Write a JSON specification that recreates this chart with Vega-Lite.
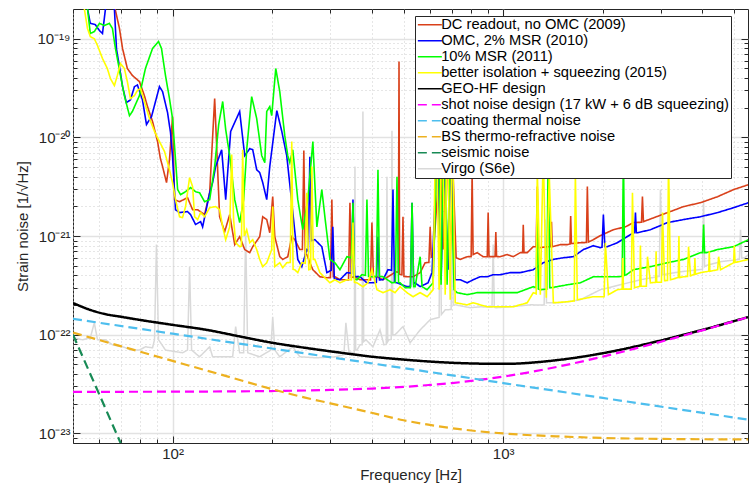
{
  "$schema": "https://vega.github.io/schema/vega-lite/v6.json",
  "width": 675,
  "height": 434,
  "autosize": "none",
  "padding": {"left": 73, "top": 9, "right": 2, "bottom": 40},
  "background": "white",
  "config": {
    "font": "Liberation Sans",
    "view": {"stroke": "#262626", "strokeWidth": 1},
    "legend": {
      "orient": "none",
      "legendX": 342,
      "legendY": 7,
      "fillColor": "white",
      "strokeColor": "#262626",
      "padding": 1.5,
      "labelFont": "Liberation Sans",
      "labelFontSize": 14.7,
      "labelColor": "#000000",
      "labelLimit": 500,
      "labelOffset": 4,
      "rowPadding": 0,
      "symbolType": "M-2,0H2",
      "symbolSize": 144,
      "symbolOffset": 6,
      "symbolStrokeWidth": 1.5,
      "title": null
    }
  },
  "datasets": {
    "dc2009": [
      {"f":50,"h":1e-17},{"f":60.1,"h":1e-18},{"f":67.2,"h":1.93e-19},{"f":69.1,"h":1.27e-19},{"f":70.6,"h":7.96e-20},{"f":73.0,"h":4.99e-20},{"f":75.6,"h":4.24e-20},{"f":79.4,"h":3.68e-20},{"f":82.2,"h":2.65e-20},{"f":84.0,"h":2.05e-20},{"f":87.0,"h":1.45e-20},{"f":90.1,"h":9.06e-21},{"f":91.9,"h":6.1e-21},{"f":93.3,"h":5.06e-21},{"f":95.9,"h":3.48e-21},{"f":97.9,"h":5.96e-21},{"f":100,"h":1.63e-20},{"f":101.4,"h":2.34e-21},{"f":105,"h":2.23e-21},{"f":111,"h":2.45e-21},{"f":115,"h":1.85e-21},{"f":119.1,"h":1.85e-21},{"f":125,"h":1.65e-21},{"f":129.5,"h":2.75e-21},{"f":134.1,"h":2.47e-20},{"f":138.8,"h":1.57e-21},{"f":143.8,"h":1.11e-21},{"f":148.9,"h":1.65e-21},{"f":154.2,"h":8.2e-22},{"f":159.6,"h":9.86e-22},{"f":165.3,"h":7.3e-22},{"f":171.2,"h":6.79e-22},{"f":174.8,"h":7.81e-22},{"f":183.5,"h":9.86e-22},{"f":187.4,"h":1.57e-21},{"f":192.7,"h":1.47e-21},{"f":196.8,"h":1.08e-21},{"f":200.9,"h":2.51e-21},{"f":203.8,"h":9.86e-22},{"f":211,"h":6.18e-22},{"f":215.4,"h":5.8e-22},{"f":223.1,"h":6.18e-22},{"f":229.4,"h":9.86e-22},{"f":234.3,"h":9.2e-22},{"f":242.6,"h":7.3e-22},{"f":247,"h":7.3e-22},{"f":249.5,"h":7.35e-21},{"f":252,"h":6.5e-22},{"f":254.7,"h":6.5e-22},{"f":260.2,"h":5.37e-22},{"f":265.7,"h":4.56e-22},{"f":279,"h":3.87e-22},{"f":292.9,"h":3.78e-22},{"f":300.3,"h":3.8e-22},{"f":303.3,"h":2.34e-21},{"f":306.3,"h":3.87e-22},{"f":309.8,"h":3.87e-22},{"f":320.8,"h":3.61e-22},{"f":340.6,"h":3.6e-22},{"f":344,"h":2.18e-21},{"f":347.4,"h":3.8e-22},{"f":356.2,"h":3.87e-22},{"f":368.9,"h":3.61e-22},{"f":397,"h":3.6e-22},{"f":400.9,"h":1.37e-21},{"f":405,"h":3.87e-22},{"f":415.1,"h":3.87e-22},{"f":432.9,"h":3.61e-22},{"f":448.3,"h":3.87e-22},{"f":474.1,"h":4.35e-22},{"f":482,"h":4.3e-22},{"f":484.1,"h":5.87e-20},{"f":486,"h":4.1e-22},{"f":490.9,"h":4.06e-22},{"f":494,"h":4.06e-22},{"f":497.7,"h":1.57e-21},{"f":501,"h":3.9e-22},{"f":511.8,"h":3.87e-22},{"f":533.8,"h":3.87e-22},{"f":560.8,"h":4.26e-22},{"f":580.7,"h":5.37e-22},{"f":596,"h":5.4e-22},{"f":601.4,"h":1.24e-21},{"f":606,"h":6.1e-22},{"f":613.8,"h":6.18e-22},{"f":631,"h":2.34e-21},{"f":644.9,"h":1.2e-20},{"f":658,"h":7.3e-22},{"f":676.6,"h":9.5e-21},{"f":691.5,"h":6.5e-22},{"f":705.5,"h":4.2e-21},{"f":720.5,"h":6.03e-22},{"f":741.5,"h":5.8e-22},{"f":778.1,"h":6.18e-22},{"f":800,"h":6.2e-22},{"f":805.5,"h":4.4e-21},{"f":811,"h":6.5e-22},{"f":834.1,"h":6.79e-22},{"f":869.7,"h":6.18e-22},{"f":895,"h":6.18e-22},{"f":900.6,"h":1.73e-21},{"f":906,"h":6.18e-22},{"f":945,"h":6.2e-22},{"f":950,"h":1.1e-21},{"f":955,"h":6.2e-22},{"f":979,"h":6.18e-22},{"f":1028,"h":6.5e-22},{"f":1072,"h":6.18e-22},{"f":1126,"h":6.79e-22},{"f":1145,"h":6.8e-22},{"f":1150,"h":1.3e-21},{"f":1156,"h":6.8e-22},{"f":1182,"h":6.79e-22},{"f":1233,"h":7.81e-22},{"f":1258,"h":7.8e-22},{"f":1268,"h":3.17e-21},{"f":1277,"h":7.6e-22},{"f":1359,"h":7.81e-22},{"f":1393,"h":7.8e-22},{"f":1400,"h":1.4e-21},{"f":1407,"h":7.8e-22},{"f":1488,"h":8.2e-22},{"f":1563,"h":8.2e-22},{"f":1592,"h":8.3e-22},{"f":1600,"h":1.6e-21},{"f":1608,"h":8.4e-22},{"f":1711,"h":8.57e-22},{"f":1785,"h":8.6e-22},{"f":1797,"h":3.17e-21},{"f":1810,"h":8.7e-22},{"f":1874,"h":9.2e-22},{"f":1967,"h":1.01e-21},{"f":2154,"h":1.16e-21},{"f":2343,"h":1.24e-21},{"f":2477,"h":1.37e-21},{"f":2620,"h":1.38e-21},{"f":2637,"h":2.51e-21},{"f":2655,"h":1.4e-21},{"f":3141,"h":1.73e-21},{"f":3512,"h":1.99e-21},{"f":3951,"h":2.18e-21},{"f":4452,"h":2.51e-21},{"f":4977,"h":2.96e-21},{"f":5523,"h":3.32e-21}
    ],
    "omc2010": [
      {"f":52.3,"h":6.4e-19},{"f":55.3,"h":2.02e-19},{"f":56.4,"h":1.43e-19},{"f":58.4,"h":1.39e-19},{"f":60.1,"h":1.21e-19},{"f":61.4,"h":1.13e-19},{"f":62.7,"h":2.02e-19},{"f":64.4,"h":4e-19},{"f":66.7,"h":2.02e-19},{"f":67.7,"h":7.8e-20},{"f":69.1,"h":5.22e-20},{"f":70.6,"h":3.27e-20},{"f":72.5,"h":2.25e-20},{"f":74.6,"h":2.4e-20},{"f":76.7,"h":3.27e-20},{"f":78.3,"h":3.4e-20},{"f":81.1,"h":2.4e-20},{"f":83.4,"h":1.35e-20},{"f":86.4,"h":1.63e-20},{"f":91.3,"h":3.27e-20},{"f":93.3,"h":2.91e-20},{"f":96.6,"h":1.78e-20},{"f":98.6,"h":1.12e-20},{"f":100,"h":6.38e-21},{"f":102.1,"h":1.85e-21},{"f":105,"h":1.73e-21},{"f":111,"h":1.77e-21},{"f":113.4,"h":1.65e-21},{"f":117.4,"h":1.31e-21},{"f":121.6,"h":1.4e-21},{"f":123.3,"h":1.24e-21},{"f":125.9,"h":1.73e-21},{"f":129.5,"h":2.75e-21},{"f":132.2,"h":3.48e-21},{"f":135,"h":5.06e-21},{"f":140.8,"h":7.5e-21},{"f":144.8,"h":2.34e-21},{"f":149.9,"h":1.15e-20},{"f":159.6,"h":1.83e-20},{"f":165.3,"h":6.53e-21},{"f":171.2,"h":7.69e-21},{"f":174.8,"h":7.5e-21},{"f":179.7,"h":4.7e-21},{"f":183.5,"h":4.4e-21},{"f":187.4,"h":3.48e-21},{"f":192.7,"h":2.34e-21},{"f":196.8,"h":5.06e-21},{"f":206.7,"h":1.87e-20},{"f":214,"h":1.15e-20},{"f":221.5,"h":6.53e-21},{"f":229.4,"h":2.18e-21},{"f":239.2,"h":5.8e-22},{"f":246,"h":4.9e-22},{"f":254.7,"h":7.3e-22},{"f":257.5,"h":7e-22},{"f":260.2,"h":6.38e-21},{"f":263,"h":9e-22},{"f":269.4,"h":9.2e-22},{"f":282.8,"h":7.81e-22},{"f":292.9,"h":4.26e-22},{"f":302,"h":4.5e-22},{"f":305.3,"h":1.24e-21},{"f":308.5,"h":3.7e-22},{"f":320.8,"h":3.61e-22},{"f":336.8,"h":4.26e-22},{"f":347.5,"h":4.2e-22},{"f":351.3,"h":2.34e-21},{"f":355,"h":3.9e-22},{"f":368.9,"h":3.87e-22},{"f":387.2,"h":3.36e-22},{"f":403.6,"h":3.36e-22},{"f":413.5,"h":3.4e-22},{"f":418.1,"h":9.86e-22},{"f":422.5,"h":3.6e-22},{"f":432.9,"h":3.61e-22},{"f":448.3,"h":4.56e-22},{"f":459.5,"h":4.5e-22},{"f":464.2,"h":2.96e-21},{"f":469,"h":3.4e-22},{"f":477.3,"h":3.36e-22},{"f":511.8,"h":3.07e-22},{"f":524.5,"h":3.1e-22},{"f":530.1,"h":2.18e-21},{"f":536,"h":3.3e-22},{"f":541.6,"h":3.36e-22},{"f":560.8,"h":3.07e-22},{"f":592.5,"h":3.36e-22},{"f":609.3,"h":4.26e-22},{"f":631,"h":7.5e-21},{"f":648.9,"h":3.61e-22},{"f":662.6,"h":5.96e-21},{"f":681.4,"h":4.56e-22},{"f":695.9,"h":1.07e-20},{"f":716,"h":3.61e-22},{"f":741.5,"h":3.61e-22},{"f":778.1,"h":3.36e-22},{"f":811.1,"h":3.61e-22},{"f":852,"h":3.87e-22},{"f":894.4,"h":3.87e-22},{"f":932.6,"h":4.06e-22},{"f":979,"h":4.06e-22},{"f":1050,"h":4.26e-22},{"f":1126,"h":4.26e-22},{"f":1233,"h":4.56e-22},{"f":1322,"h":5.37e-22},{"f":1418,"h":5.8e-22},{"f":1520,"h":6.03e-22},{"f":1630,"h":6.18e-22},{"f":1748,"h":7.3e-22},{"f":1874,"h":7.99e-22},{"f":1967,"h":7.62e-22},{"f":1990,"h":7.7e-22},{"f":2009,"h":1.65e-21},{"f":2030,"h":7.8e-22},{"f":2066,"h":7.81e-22},{"f":2215,"h":8.57e-22},{"f":2477,"h":1.08e-21},{"f":2497,"h":1.08e-21},{"f":2512,"h":1.73e-21},{"f":2528,"h":1.08e-21},{"f":2547,"h":1.08e-21},{"f":2788,"h":1.16e-21},{"f":3141,"h":1.37e-21},{"f":3512,"h":1.47e-21},{"f":3951,"h":1.57e-21},{"f":4452,"h":1.73e-21},{"f":4977,"h":1.94e-21},{"f":5523,"h":2.18e-21}
    ],
    "msr2011": [
      {"f":52.3,"h":6.4e-19},{"f":55.3,"h":2.02e-19},{"f":56.4,"h":1.13e-19},{"f":58.0,"h":1.18e-19},{"f":60.1,"h":1.43e-19},{"f":62.2,"h":1.36e-19},{"f":64.4,"h":1.43e-19},{"f":65.8,"h":1.27e-19},{"f":67.2,"h":7.96e-20},{"f":69.6,"h":4.24e-20},{"f":71.5,"h":2.65e-20},{"f":74.1,"h":1.66e-20},{"f":75.6,"h":1.83e-20},{"f":79.4,"h":2.65e-20},{"f":82.8,"h":4.99e-20},{"f":87.0,"h":7.96e-20},{"f":90.7,"h":9.38e-20},{"f":92.6,"h":7.96e-20},{"f":95.2,"h":4.24e-20},{"f":97.9,"h":2.47e-20},{"f":100,"h":1.55e-20},{"f":102.1,"h":5.96e-21},{"f":103.6,"h":2.96e-21},{"f":105.7,"h":2.63e-21},{"f":109.5,"h":2.82e-21},{"f":113.4,"h":3.1e-21},{"f":117.4,"h":2.82e-21},{"f":120.7,"h":2.75e-21},{"f":125,"h":2.23e-21},{"f":129.5,"h":2.34e-21},{"f":134.1,"h":5.06e-21},{"f":137.9,"h":1.35e-20},{"f":141.8,"h":2.31e-20},{"f":144.8,"h":1.2e-20},{"f":148.9,"h":6.53e-21},{"f":154.2,"h":2.34e-21},{"f":159.6,"h":1.37e-21},{"f":164.1,"h":2.34e-21},{"f":167.6,"h":7.5e-21},{"f":173.5,"h":2.59e-20},{"f":179.7,"h":1.55e-20},{"f":186.1,"h":6.53e-21},{"f":190.1,"h":5.55e-21},{"f":192.7,"h":1.83e-20},{"f":196.8,"h":2.05e-20},{"f":199.5,"h":1.66e-20},{"f":205.2,"h":4.99e-20},{"f":211,"h":2.91e-20},{"f":218.5,"h":1.04e-20},{"f":223.1,"h":6.53e-21},{"f":226.3,"h":5.55e-21},{"f":231,"h":7.5e-21},{"f":239.2,"h":2.34e-21},{"f":247.7,"h":1.16e-21},{"f":256.5,"h":2.34e-21},{"f":265.7,"h":9.06e-21},{"f":273.2,"h":1.24e-21},{"f":282.8,"h":2.96e-21},{"f":288.9,"h":1.57e-21},{"f":299.2,"h":5.8e-22},{"f":309.8,"h":5.37e-22},{"f":320.8,"h":4.56e-22},{"f":336.8,"h":6.18e-22},{"f":347.5,"h":6e-22},{"f":351.3,"h":2.18e-21},{"f":355,"h":3.7e-22},{"f":361.2,"h":3.61e-22},{"f":373.9,"h":4.06e-22},{"f":383,"h":4e-22},{"f":387.2,"h":2.34e-21},{"f":391.5,"h":3.9e-22},{"f":400.9,"h":3.87e-22},{"f":413.5,"h":3.9e-22},{"f":418.1,"h":4.7e-21},{"f":422.5,"h":3.9e-22},{"f":432.9,"h":3.87e-22},{"f":460.9,"h":3.36e-22},{"f":472,"h":3.4e-22},{"f":477.3,"h":4.0e-21},{"f":482.5,"h":3.4e-22},{"f":487.7,"h":3.36e-22},{"f":505,"h":3.0e-22},{"f":524,"h":3.0e-22},{"f":530.1,"h":2.18e-21},{"f":536,"h":3.07e-22},{"f":541.6,"h":3.07e-22},{"f":560.8,"h":6.18e-22},{"f":568.5,"h":3.07e-22},{"f":588.6,"h":2.86e-22},{"f":613.8,"h":3.36e-22},{"f":635.4,"h":1.91e-20},{"f":648.9,"h":3.21e-22},{"f":662.6,"h":2.4e-20},{"f":676.6,"h":3.21e-22},{"f":691.5,"h":9.5e-21},{"f":710.5,"h":2.86e-22},{"f":725.6,"h":2.67e-22},{"f":778.1,"h":2.55e-22},{"f":834.1,"h":2.67e-22},{"f":869.7,"h":2.67e-22},{"f":979,"h":2.67e-22},{"f":1103,"h":2.67e-22},{"f":1233,"h":3.07e-22},{"f":1258,"h":3.0e-22},{"f":1268,"h":2.34e-21},{"f":1278,"h":2.9e-22},{"f":1295,"h":2.86e-22},{"f":1355,"h":2.9e-22},{"f":1369,"h":9.5e-21},{"f":1383,"h":3.0e-22},{"f":1398,"h":3.0e-22},{"f":1563,"h":3.21e-22},{"f":1711,"h":3.36e-22},{"f":1874,"h":3.87e-22},{"f":1967,"h":3.87e-22},{"f":2215,"h":3.87e-22},{"f":2290,"h":3.9e-22},{"f":2310,"h":7.5e-21},{"f":2330,"h":4.0e-22},{"f":2359,"h":4.06e-22},{"f":2477,"h":4.56e-22},{"f":2788,"h":4.9e-22},{"f":3141,"h":5.37e-22},{"f":3512,"h":5.8e-22},{"f":3951,"h":6.79e-22},{"f":4010,"h":6.8e-22},{"f":4037,"h":1.31e-21},{"f":4065,"h":6.8e-22},{"f":4123,"h":6.79e-22},{"f":4452,"h":7.3e-22},{"f":4977,"h":7.81e-22},{"f":5523,"h":9.2e-22}
    ],
    "sqz2015": [
      {"f":51.5,"h":6.4e-19},{"f":54.1,"h":2.02e-19},{"f":55.3,"h":1.27e-19},{"f":56.4,"h":1.05e-19},{"f":58.0,"h":1.0e-19},{"f":59.3,"h":8.53e-20},{"f":61.4,"h":6.3e-20},{"f":63.5,"h":4.99e-20},{"f":64.9,"h":3.94e-20},{"f":66.7,"h":3.35e-20},{"f":68.1,"h":4.24e-20},{"f":69.6,"h":5.6e-20},{"f":71.5,"h":4.99e-20},{"f":73.0,"h":3.68e-20},{"f":74.6,"h":2.47e-20},{"f":76.7,"h":2.65e-20},{"f":78.3,"h":2.99e-20},{"f":80.0,"h":3.13e-20},{"f":82.2,"h":2.31e-20},{"f":85.2,"h":1.55e-20},{"f":88.2,"h":1.15e-20},{"f":91.3,"h":9.06e-21},{"f":94.6,"h":7.18e-21},{"f":97.9,"h":4.7e-21},{"f":100,"h":3.48e-21},{"f":102.1,"h":2.34e-21},{"f":105,"h":1.57e-21},{"f":107.2,"h":1.54e-21},{"f":109.5,"h":1.99e-21},{"f":112.6,"h":3.91e-21},{"f":115,"h":3.17e-21},{"f":116.6,"h":1.57e-21},{"f":119.1,"h":1.47e-21},{"f":121.6,"h":1.73e-21},{"f":125,"h":1.57e-21},{"f":129.5,"h":1.94e-21},{"f":135,"h":1.99e-21},{"f":138.8,"h":1.85e-21},{"f":141.8,"h":1.24e-21},{"f":144.8,"h":9.2e-22},{"f":148.9,"h":1.24e-21},{"f":151,"h":6.7e-21},{"f":153,"h":1.47e-21},{"f":155.2,"h":8.57e-22},{"f":159.6,"h":7.81e-22},{"f":161.5,"h":7.9e-22},{"f":163,"h":7.5e-21},{"f":164.8,"h":1.0e-21},{"f":167.6,"h":1.16e-21},{"f":171.2,"h":8.57e-22},{"f":174.8,"h":9.2e-22},{"f":179.7,"h":7.3e-22},{"f":183.5,"h":5.8e-22},{"f":187.4,"h":4.9e-22},{"f":192.7,"h":5.37e-22},{"f":199.5,"h":7.3e-22},{"f":200.9,"h":1.99e-21},{"f":203.8,"h":4.9e-22},{"f":211,"h":5.37e-22},{"f":215.4,"h":4.78e-22},{"f":221.5,"h":5.37e-22},{"f":227,"h":5.4e-22},{"f":229.4,"h":9.06e-21},{"f":231.5,"h":4.6e-22},{"f":234.3,"h":4.56e-22},{"f":239.2,"h":4.26e-22},{"f":246,"h":5.37e-22},{"f":252,"h":5.3e-22},{"f":254.7,"h":2.75e-21},{"f":258.3,"h":4.56e-22},{"f":261.5,"h":4.6e-22},{"f":263.8,"h":5.06e-21},{"f":266.5,"h":5.8e-22},{"f":269.4,"h":5.8e-22},{"f":279,"h":4.26e-22},{"f":292.9,"h":3.61e-22},{"f":299.2,"h":3.36e-22},{"f":309.8,"h":3.61e-22},{"f":320.8,"h":3.36e-22},{"f":336.8,"h":3.61e-22},{"f":347.5,"h":3.6e-22},{"f":351.3,"h":1.37e-21},{"f":355,"h":3.4e-22},{"f":361.2,"h":3.36e-22},{"f":376.5,"h":3.07e-22},{"f":389.8,"h":3.36e-22},{"f":400.9,"h":4.56e-22},{"f":415.1,"h":2.86e-22},{"f":432.9,"h":2.67e-22},{"f":454.8,"h":2.86e-22},{"f":471,"h":2.67e-22},{"f":487.7,"h":3.07e-22},{"f":511.8,"h":2.67e-22},{"f":533.8,"h":2.43e-22},{"f":560.8,"h":2.67e-22},{"f":588.6,"h":2.43e-22},{"f":613.8,"h":2.86e-22},{"f":626.6,"h":2.4e-20},{"f":640.1,"h":2.86e-22},{"f":653.7,"h":2.7e-20},{"f":667.8,"h":2.55e-22},{"f":676.6,"h":3.2e-20},{"f":691.5,"h":2.26e-22},{"f":700.9,"h":1.91e-20},{"f":716,"h":2.11e-22},{"f":778.1,"h":2.01e-22},{"f":811.1,"h":2.11e-22},{"f":894.4,"h":1.92e-22},{"f":979,"h":1.92e-22},{"f":1072,"h":1.92e-22},{"f":1182,"h":2.11e-22},{"f":1233,"h":2.67e-22},{"f":1258,"h":2.6e-22},{"f":1268,"h":4.7e-21},{"f":1295,"h":2.55e-22},{"f":1322,"h":7.5e-21},{"f":1350,"h":2.37e-22},{"f":1378,"h":4.2e-21},{"f":1418,"h":2.11e-22},{"f":1563,"h":2.16e-22},{"f":1640,"h":2.2e-22},{"f":1653,"h":4.4e-21},{"f":1676,"h":2.26e-22},{"f":1874,"h":2.43e-22},{"f":1967,"h":2.43e-22},{"f":2020,"h":2.43e-22},{"f":2037,"h":8.57e-22},{"f":2081,"h":2.55e-22},{"f":2215,"h":2.86e-22},{"f":2290,"h":2.9e-22},{"f":2300,"h":6e-22},{"f":2310,"h":2.9e-22},{"f":2440,"h":2.9e-22},{"f":2460,"h":2.75e-21},{"f":2495,"h":3.0e-22},{"f":2590,"h":3.1e-22},{"f":2600,"h":8e-22},{"f":2612,"h":3.1e-22},{"f":2710,"h":3.1e-22},{"f":2732,"h":6.18e-22},{"f":2788,"h":3.36e-22},{"f":2890,"h":3.4e-22},{"f":2900,"h":7e-22},{"f":2912,"h":3.4e-22},{"f":3010,"h":3.4e-22},{"f":3033,"h":1.73e-21},{"f":3076,"h":3.53e-22},{"f":3140,"h":3.55e-22},{"f":3162,"h":5.96e-21},{"f":3205,"h":3.61e-22},{"f":3385,"h":3.8e-22},{"f":3400,"h":1.0e-21},{"f":3415,"h":3.8e-22},{"f":3512,"h":3.87e-22},{"f":3610,"h":3.9e-22},{"f":3636,"h":7.81e-22},{"f":3685,"h":3.96e-22},{"f":3785,"h":4.1e-22},{"f":3800,"h":6e-22},{"f":3815,"h":4.1e-22},{"f":3951,"h":4.26e-22},{"f":4185,"h":4.4e-22},{"f":4200,"h":7e-22},{"f":4215,"h":4.4e-22},{"f":4452,"h":4.56e-22},{"f":4483,"h":6.18e-22},{"f":4542,"h":4.56e-22},{"f":4977,"h":5.37e-22},{"f":5000,"h":8e-22},{"f":5025,"h":5.4e-22},{"f":5523,"h":5.8e-22}
    ],
    "virgo": [
      {"f":50,"h":9.32e-23},{"f":53.4,"h":8.9e-23},{"f":56.4,"h":9.32e-23},{"f":58.0,"h":1.32e-22},{"f":59.3,"h":8.9e-23},{"f":62.7,"h":8.9e-23},{"f":65.8,"h":7.9e-23},{"f":70.6,"h":7.55e-23},{"f":75.6,"h":7.0e-23},{"f":79.4,"h":7.0e-23},{"f":82.8,"h":7.55e-23},{"f":87.0,"h":7.38e-23},{"f":88.2,"h":8.9e-23},{"f":89.4,"h":8.2e-22},{"f":90.7,"h":8.9e-23},{"f":95.2,"h":7.0e-23},{"f":107.2,"h":6.57e-23},{"f":111,"h":7.0e-23},{"f":112.6,"h":4.9e-22},{"f":114.2,"h":7.0e-23},{"f":120.7,"h":5.98e-23},{"f":129.5,"h":7.55e-23},{"f":132.2,"h":5.98e-23},{"f":141.8,"h":5.98e-23},{"f":152,"h":5.98e-23},{"f":155.2,"h":1.21e-22},{"f":159.6,"h":6.57e-23},{"f":164.1,"h":6.57e-23},{"f":166.4,"h":1.11e-21},{"f":168.8,"h":6.57e-23},{"f":183.5,"h":5.98e-23},{"f":198.2,"h":7.0e-23},{"f":200.9,"h":1.52e-22},{"f":203.8,"h":7.0e-23},{"f":211,"h":5.98e-23},{"f":231,"h":7.55e-23},{"f":242.6,"h":5.98e-23},{"f":271.3,"h":5.84e-23},{"f":311.9,"h":5.98e-23},{"f":329.8,"h":6.3e-23},{"f":334.4,"h":1.32e-22},{"f":341.5,"h":6.73e-23},{"f":351.3,"h":6.57e-23},{"f":354.5,"h":6.6e-23},{"f":356.2,"h":5.06e-21},{"f":358,"h":7.0e-23},{"f":361.2,"h":7.0e-23},{"f":368.9,"h":7.9e-23},{"f":374.5,"h":7.9e-23},{"f":376.5,"h":1.83e-20},{"f":378.5,"h":8.5e-23},{"f":384.5,"h":8.9e-23},{"f":403.6,"h":7.55e-23},{"f":424.1,"h":1.12e-22},{"f":435.9,"h":7.9e-23},{"f":443,"h":8e-23},{"f":445.1,"h":4.0e-21},{"f":447.5,"h":8.5e-23},{"f":451.5,"h":8.9e-23},{"f":458.5,"h":9e-23},{"f":460.9,"h":1.17e-20},{"f":463.5,"h":1e-22},{"f":471,"h":1.0e-22},{"f":497.7,"h":1.21e-22},{"f":523,"h":8.3e-23},{"f":560.8,"h":1.12e-22},{"f":601.4,"h":1.42e-22},{"f":640,"h":1.5e-22},{"f":644.9,"h":2.34e-21},{"f":650,"h":1.6e-22},{"f":667.8,"h":1.79e-22},{"f":696,"h":1.8e-22},{"f":700.9,"h":3.73e-21},{"f":706,"h":2.0e-22},{"f":716,"h":2.01e-22},{"f":795,"h":1.88e-22},{"f":852,"h":1.92e-22},{"f":925,"h":1.9e-22},{"f":932.6,"h":8.2e-22},{"f":940,"h":1.9e-22},{"f":952.4,"h":1.88e-22},{"f":1050,"h":1.92e-22},{"f":1208,"h":2.01e-22},{"f":1330,"h":2.0e-22},{"f":1341,"h":1.47e-21},{"f":1352,"h":2.1e-22},{"f":1369,"h":2.11e-22},{"f":1488,"h":2.11e-22},{"f":1711,"h":2.26e-22},{"f":1967,"h":2.86e-22},{"f":2262,"h":3.21e-22},{"f":2600,"h":3.61e-22},{"f":2965,"h":3.9e-22},{"f":2989,"h":2.96e-21},{"f":3033,"h":4.06e-22},{"f":3437,"h":4.35e-22},{"f":4005,"h":4.6e-22},{"f":4037,"h":2.34e-21},{"f":4065,"h":4.9e-22},{"f":4094,"h":5.01e-22},{"f":4542,"h":5.5e-22},{"f":5180,"h":5.8e-22},{"f":5222,"h":1.16e-21},{"f":5265,"h":6e-22},{"f":5374,"h":6.03e-22},{"f":5523,"h":6.5e-22}
    ],
    "geohf": [
      {"f":50,"h":2.1e-22},{"f":56,"h":1.8e-22},{"f":62,"h":1.63e-22},{"f":70,"h":1.52e-22},{"f":79,"h":1.42e-22},{"f":100,"h":1.26e-22},{"f":127,"h":1.12e-22},{"f":160,"h":9.6e-23},{"f":200,"h":8.3e-23},{"f":250,"h":7.4e-23},{"f":320,"h":6.6e-23},{"f":400,"h":6.0e-23},{"f":500,"h":5.6e-23},{"f":700,"h":5.2e-23},{"f":1000,"h":5.07e-23},{"f":1500,"h":5.6e-23},{"f":2000,"h":6.5e-23},{"f":3000,"h":8.75e-23},{"f":4000,"h":1.12e-22},{"f":5500,"h":1.51e-22}
    ],
    "shot": [
      {"f":50,"h":2.64e-23},{"f":100,"h":2.65e-23},{"f":200,"h":2.69e-23},{"f":300,"h":2.76e-23},{"f":400,"h":2.85e-23},{"f":500,"h":2.96e-23},{"f":600,"h":3.1e-23},{"f":700,"h":3.24e-23},{"f":800,"h":3.41e-23},{"f":1000,"h":3.77e-23},{"f":1200,"h":4.17e-23},{"f":1500,"h":4.83e-23},{"f":2000,"h":6.0e-23},{"f":2500,"h":7.23e-23},{"f":3000,"h":8.5e-23},{"f":4000,"h":1.109e-22},{"f":5500,"h":1.505e-22}
    ],
    "coating": [
      {"f":50,"h":1.45e-22},{"f":100,"h":1.025e-22},{"f":200,"h":7.25e-23},{"f":500,"h":4.59e-23},{"f":1000,"h":3.24e-23},{"f":2000,"h":2.29e-23},{"f":5500,"h":1.38e-23}
    ],
    "bstr": [
      {"f":50,"h":1.05e-22},{"f":70,"h":7.63e-23},{"f":100,"h":5.43e-23},{"f":150,"h":3.7e-23},{"f":200,"h":2.81e-23},{"f":250,"h":2.32e-23},{"f":300,"h":2.02e-23},{"f":400,"h":1.62e-23},{"f":500,"h":1.36e-23},{"f":600,"h":1.22e-23},{"f":700,"h":1.13e-23},{"f":1000,"h":1.0e-23},{"f":1500,"h":9.3e-24},{"f":2000,"h":9.0e-24},{"f":3000,"h":8.8e-24},{"f":5500,"h":8.7e-24}
    ],
    "seismic": [
      {"f":50,"h":1e-22},{"f":60,"h":2.5e-23},{"f":70,"h":7.7e-24}
    ]
  },
  "encoding": {
    "x": {"field": "f", "type": "quantitative", "scale": {"type": "log", "domain": [50, 5500], "nice": false}, "axis": null},
    "y": {"field": "h", "type": "quantitative", "scale": {"type": "log", "domain": [8e-24, 2e-19], "nice": false}, "axis": null}
  },
  "resolve": {"axis": {"x": "independent", "y": "independent"}},
  "layer": [
    {
      "data": {"name": "virgo"},
      "mark": {"type": "line", "clip": true, "strokeWidth": 1.5},
      "encoding": {
        "x": {"field": "f", "type": "quantitative", "scale": {"type": "log", "domain": [50, 5500], "nice": false},
          "axis": {"orient": "bottom", "values": [50,60,70,80,90,100,200,300,400,500,600,700,800,900,1000,2000,3000,4000,5000],
            "labelExpr": "datum.value == 100 ? '10²' : datum.value == 1000 ? '10³' : ''",
            "labelOverlap": false, "labelFlush": false, "labelFontSize": 15, "labelColor": "#262626", "labelPadding": 10,
            "grid": true,
            "gridColor": {"condition": {"test": "datum.value == 100 || datum.value == 1000", "value": "#e2e2e2"}, "value": "#cccccc"},
            "gridDash": {"condition": {"test": "datum.value == 100 || datum.value == 1000", "value": []}, "value": [1, 3]},
            "gridWidth": {"condition": {"test": "datum.value == 100 || datum.value == 1000", "value": 1.5}, "value": 1},
            "tickSize": {"condition": {"test": "datum.value == 100 || datum.value == 1000", "value": -7}, "value": -4},
            "tickColor": "#262626", "domain": false,
            "title": "Frequency [Hz]", "titleFontSize": 15, "titleFontWeight": "normal", "titleColor": "#262626", "titlePadding": 3}},
        "y": {"field": "h", "type": "quantitative", "scale": {"type": "log", "domain": [8e-24, 2e-19], "nice": false},
          "axis": {"orient": "left", "values": [9e-24,1e-23,2e-23,3e-23,4e-23,5e-23,6e-23,7e-23,8e-23,9e-23,1e-22,2e-22,3e-22,4e-22,5e-22,6e-22,7e-22,8e-22,9e-22,1e-21,2e-21,3e-21,4e-21,5e-21,6e-21,7e-21,8e-21,9e-21,1e-20,2e-20,3e-20,4e-20,5e-20,6e-20,7e-20,8e-20,9e-20,1e-19],
            "labelExpr": "abs(datum.value/1e-19-1)<0.01 ? '10⁻¹⁹' : abs(datum.value/1e-20-1)<0.01 ? '10⁻²⁰' : abs(datum.value/1e-21-1)<0.01 ? '10⁻²¹' : abs(datum.value/1e-22-1)<0.01 ? '10⁻²²' : abs(datum.value/1e-23-1)<0.01 ? '10⁻²³' : ''",
            "labelOverlap": false, "labelFlush": false, "labelFontSize": 15, "labelColor": "#262626", "labelPadding": 10,
            "grid": true,
            "gridColor": {"condition": {"test": "abs(log(datum.value)/LN10 - round(log(datum.value)/LN10)) < 0.01", "value": "#e2e2e2"}, "value": "#cccccc"},
            "gridDash": {"condition": {"test": "abs(log(datum.value)/LN10 - round(log(datum.value)/LN10)) < 0.01", "value": []}, "value": [1, 3]},
            "gridWidth": {"condition": {"test": "abs(log(datum.value)/LN10 - round(log(datum.value)/LN10)) < 0.01", "value": 1.5}, "value": 1},
            "tickSize": {"condition": {"test": "abs(log(datum.value)/LN10 - round(log(datum.value)/LN10)) < 0.01", "value": -7}, "value": -4},
            "tickColor": "#262626", "domain": false,
            "title": "Strain noise [1/√Hz]", "titleFontSize": 15, "titleFontWeight": "normal", "titleColor": "#262626", "titlePadding": 6}},
        "color": {"datum": "Virgo (S6e)", "scale": {"domain": ["DC readout, no OMC (2009)","OMC, 2% MSR (2010)","10% MSR (2011)","better isolation + squeezing (2015)","GEO-HF design","shot noise design (17 kW + 6 dB squeezing)","coating thermal noise","BS thermo-refractive noise","seismic noise","Virgo (S6e)"], "range": ["#D9401A","#0000FF","#00FF00","#FFFF00","#000000","#FF00FF","#4DBEEE","#EDB120","#178A55","#D9D9D9"]}, "legend": {"title": null}},
        "strokeDash": {"datum": "Virgo (S6e)", "scale": {"domain": ["DC readout, no OMC (2009)","OMC, 2% MSR (2010)","10% MSR (2011)","better isolation + squeezing (2015)","GEO-HF design","shot noise design (17 kW + 6 dB squeezing)","coating thermal noise","BS thermo-refractive noise","seismic noise","Virgo (S6e)"], "range": [[1,0],[1,0],[1,0],[1,0],[1,0],[9,5],[9,5],[9,5],[9,5],[1,0]]}, "legend": {"title": null}}
      }
    },
    {
      "data": {"name": "dc2009"},
      "mark": {"type": "line", "clip": true, "strokeWidth": 1.6},
      "encoding": {
        "x": {"field": "f", "type": "quantitative", "scale": {"type": "log", "domain": [50, 5500], "nice": false},
          "axis": {"orient": "top", "values": [50,60,70,80,90,100,200,300,400,500,600,700,800,900,1000,2000,3000,4000,5000],
            "labels": false, "grid": false, "domain": false, "title": null, "tickColor": "#262626",
            "tickSize": {"condition": {"test": "datum.value == 100 || datum.value == 1000", "value": -7}, "value": -4}}},
        "y": {"field": "h", "type": "quantitative", "scale": {"type": "log", "domain": [8e-24, 2e-19], "nice": false},
          "axis": {"orient": "right", "values": [9e-24,1e-23,2e-23,3e-23,4e-23,5e-23,6e-23,7e-23,8e-23,9e-23,1e-22,2e-22,3e-22,4e-22,5e-22,6e-22,7e-22,8e-22,9e-22,1e-21,2e-21,3e-21,4e-21,5e-21,6e-21,7e-21,8e-21,9e-21,1e-20,2e-20,3e-20,4e-20,5e-20,6e-20,7e-20,8e-20,9e-20,1e-19],
            "labels": false, "grid": false, "domain": false, "title": null, "tickColor": "#262626",
            "tickSize": {"condition": {"test": "abs(log(datum.value)/LN10 - round(log(datum.value)/LN10)) < 0.01", "value": -7}, "value": -4}}},
        "color": {"datum": "DC readout, no OMC (2009)", "scale": {"domain": ["DC readout, no OMC (2009)","OMC, 2% MSR (2010)","10% MSR (2011)","better isolation + squeezing (2015)","GEO-HF design","shot noise design (17 kW + 6 dB squeezing)","coating thermal noise","BS thermo-refractive noise","seismic noise","Virgo (S6e)"], "range": ["#D9401A","#0000FF","#00FF00","#FFFF00","#000000","#FF00FF","#4DBEEE","#EDB120","#178A55","#D9D9D9"]}},
        "strokeDash": {"datum": "DC readout, no OMC (2009)", "scale": {"domain": ["DC readout, no OMC (2009)","OMC, 2% MSR (2010)","10% MSR (2011)","better isolation + squeezing (2015)","GEO-HF design","shot noise design (17 kW + 6 dB squeezing)","coating thermal noise","BS thermo-refractive noise","seismic noise","Virgo (S6e)"], "range": [[1,0],[1,0],[1,0],[1,0],[1,0],[9,5],[9,5],[9,5],[9,5],[1,0]]}}
      }
    },
    {
      "data": {"name": "omc2010"},
      "mark": {"type": "line", "clip": true, "strokeWidth": 1.6},
      "encoding": {
        "color": {"datum": "OMC, 2% MSR (2010)", "scale": {"domain": ["DC readout, no OMC (2009)","OMC, 2% MSR (2010)","10% MSR (2011)","better isolation + squeezing (2015)","GEO-HF design","shot noise design (17 kW + 6 dB squeezing)","coating thermal noise","BS thermo-refractive noise","seismic noise","Virgo (S6e)"], "range": ["#D9401A","#0000FF","#00FF00","#FFFF00","#000000","#FF00FF","#4DBEEE","#EDB120","#178A55","#D9D9D9"]}},
        "strokeDash": {"datum": "OMC, 2% MSR (2010)", "scale": {"domain": ["DC readout, no OMC (2009)","OMC, 2% MSR (2010)","10% MSR (2011)","better isolation + squeezing (2015)","GEO-HF design","shot noise design (17 kW + 6 dB squeezing)","coating thermal noise","BS thermo-refractive noise","seismic noise","Virgo (S6e)"], "range": [[1,0],[1,0],[1,0],[1,0],[1,0],[9,5],[9,5],[9,5],[9,5],[1,0]]}}
      }
    },
    {
      "data": {"name": "msr2011"},
      "mark": {"type": "line", "clip": true, "strokeWidth": 1.6},
      "encoding": {
        "color": {"datum": "10% MSR (2011)", "scale": {"domain": ["DC readout, no OMC (2009)","OMC, 2% MSR (2010)","10% MSR (2011)","better isolation + squeezing (2015)","GEO-HF design","shot noise design (17 kW + 6 dB squeezing)","coating thermal noise","BS thermo-refractive noise","seismic noise","Virgo (S6e)"], "range": ["#D9401A","#0000FF","#00FF00","#FFFF00","#000000","#FF00FF","#4DBEEE","#EDB120","#178A55","#D9D9D9"]}},
        "strokeDash": {"datum": "10% MSR (2011)", "scale": {"domain": ["DC readout, no OMC (2009)","OMC, 2% MSR (2010)","10% MSR (2011)","better isolation + squeezing (2015)","GEO-HF design","shot noise design (17 kW + 6 dB squeezing)","coating thermal noise","BS thermo-refractive noise","seismic noise","Virgo (S6e)"], "range": [[1,0],[1,0],[1,0],[1,0],[1,0],[9,5],[9,5],[9,5],[9,5],[1,0]]}}
      }
    },
    {
      "data": {"name": "sqz2015"},
      "mark": {"type": "line", "clip": true, "strokeWidth": 1.6},
      "encoding": {
        "color": {"datum": "better isolation + squeezing (2015)", "scale": {"domain": ["DC readout, no OMC (2009)","OMC, 2% MSR (2010)","10% MSR (2011)","better isolation + squeezing (2015)","GEO-HF design","shot noise design (17 kW + 6 dB squeezing)","coating thermal noise","BS thermo-refractive noise","seismic noise","Virgo (S6e)"], "range": ["#D9401A","#0000FF","#00FF00","#FFFF00","#000000","#FF00FF","#4DBEEE","#EDB120","#178A55","#D9D9D9"]}},
        "strokeDash": {"datum": "better isolation + squeezing (2015)", "scale": {"domain": ["DC readout, no OMC (2009)","OMC, 2% MSR (2010)","10% MSR (2011)","better isolation + squeezing (2015)","GEO-HF design","shot noise design (17 kW + 6 dB squeezing)","coating thermal noise","BS thermo-refractive noise","seismic noise","Virgo (S6e)"], "range": [[1,0],[1,0],[1,0],[1,0],[1,0],[9,5],[9,5],[9,5],[9,5],[1,0]]}}
      }
    },
    {
      "data": {"name": "geohf"},
      "mark": {"type": "line", "clip": true, "strokeWidth": 2.5, "interpolate": "monotone"},
      "encoding": {
        "color": {"datum": "GEO-HF design", "scale": {"domain": ["DC readout, no OMC (2009)","OMC, 2% MSR (2010)","10% MSR (2011)","better isolation + squeezing (2015)","GEO-HF design","shot noise design (17 kW + 6 dB squeezing)","coating thermal noise","BS thermo-refractive noise","seismic noise","Virgo (S6e)"], "range": ["#D9401A","#0000FF","#00FF00","#FFFF00","#000000","#FF00FF","#4DBEEE","#EDB120","#178A55","#D9D9D9"]}},
        "strokeDash": {"datum": "GEO-HF design", "scale": {"domain": ["DC readout, no OMC (2009)","OMC, 2% MSR (2010)","10% MSR (2011)","better isolation + squeezing (2015)","GEO-HF design","shot noise design (17 kW + 6 dB squeezing)","coating thermal noise","BS thermo-refractive noise","seismic noise","Virgo (S6e)"], "range": [[1,0],[1,0],[1,0],[1,0],[1,0],[9,5],[9,5],[9,5],[9,5],[1,0]]}}
      }
    },
    {
      "data": {"name": "shot"},
      "mark": {"type": "line", "clip": true, "strokeWidth": 2.2, "interpolate": "monotone"},
      "encoding": {
        "color": {"datum": "shot noise design (17 kW + 6 dB squeezing)", "scale": {"domain": ["DC readout, no OMC (2009)","OMC, 2% MSR (2010)","10% MSR (2011)","better isolation + squeezing (2015)","GEO-HF design","shot noise design (17 kW + 6 dB squeezing)","coating thermal noise","BS thermo-refractive noise","seismic noise","Virgo (S6e)"], "range": ["#D9401A","#0000FF","#00FF00","#FFFF00","#000000","#FF00FF","#4DBEEE","#EDB120","#178A55","#D9D9D9"]}},
        "strokeDash": {"datum": "shot noise design (17 kW + 6 dB squeezing)", "scale": {"domain": ["DC readout, no OMC (2009)","OMC, 2% MSR (2010)","10% MSR (2011)","better isolation + squeezing (2015)","GEO-HF design","shot noise design (17 kW + 6 dB squeezing)","coating thermal noise","BS thermo-refractive noise","seismic noise","Virgo (S6e)"], "range": [[1,0],[1,0],[1,0],[1,0],[1,0],[9,5],[9,5],[9,5],[9,5],[1,0]]}}
      }
    },
    {
      "data": {"name": "coating"},
      "mark": {"type": "line", "clip": true, "strokeWidth": 2.2},
      "encoding": {
        "color": {"datum": "coating thermal noise", "scale": {"domain": ["DC readout, no OMC (2009)","OMC, 2% MSR (2010)","10% MSR (2011)","better isolation + squeezing (2015)","GEO-HF design","shot noise design (17 kW + 6 dB squeezing)","coating thermal noise","BS thermo-refractive noise","seismic noise","Virgo (S6e)"], "range": ["#D9401A","#0000FF","#00FF00","#FFFF00","#000000","#FF00FF","#4DBEEE","#EDB120","#178A55","#D9D9D9"]}},
        "strokeDash": {"datum": "coating thermal noise", "scale": {"domain": ["DC readout, no OMC (2009)","OMC, 2% MSR (2010)","10% MSR (2011)","better isolation + squeezing (2015)","GEO-HF design","shot noise design (17 kW + 6 dB squeezing)","coating thermal noise","BS thermo-refractive noise","seismic noise","Virgo (S6e)"], "range": [[1,0],[1,0],[1,0],[1,0],[1,0],[9,5],[9,5],[9,5],[9,5],[1,0]]}}
      }
    },
    {
      "data": {"name": "bstr"},
      "mark": {"type": "line", "clip": true, "strokeWidth": 2.2, "interpolate": "monotone"},
      "encoding": {
        "color": {"datum": "BS thermo-refractive noise", "scale": {"domain": ["DC readout, no OMC (2009)","OMC, 2% MSR (2010)","10% MSR (2011)","better isolation + squeezing (2015)","GEO-HF design","shot noise design (17 kW + 6 dB squeezing)","coating thermal noise","BS thermo-refractive noise","seismic noise","Virgo (S6e)"], "range": ["#D9401A","#0000FF","#00FF00","#FFFF00","#000000","#FF00FF","#4DBEEE","#EDB120","#178A55","#D9D9D9"]}},
        "strokeDash": {"datum": "BS thermo-refractive noise", "scale": {"domain": ["DC readout, no OMC (2009)","OMC, 2% MSR (2010)","10% MSR (2011)","better isolation + squeezing (2015)","GEO-HF design","shot noise design (17 kW + 6 dB squeezing)","coating thermal noise","BS thermo-refractive noise","seismic noise","Virgo (S6e)"], "range": [[1,0],[1,0],[1,0],[1,0],[1,0],[9,5],[9,5],[9,5],[9,5],[1,0]]}}
      }
    },
    {
      "data": {"name": "seismic"},
      "mark": {"type": "line", "clip": true, "strokeWidth": 2.2},
      "encoding": {
        "color": {"datum": "seismic noise", "scale": {"domain": ["DC readout, no OMC (2009)","OMC, 2% MSR (2010)","10% MSR (2011)","better isolation + squeezing (2015)","GEO-HF design","shot noise design (17 kW + 6 dB squeezing)","coating thermal noise","BS thermo-refractive noise","seismic noise","Virgo (S6e)"], "range": ["#D9401A","#0000FF","#00FF00","#FFFF00","#000000","#FF00FF","#4DBEEE","#EDB120","#178A55","#D9D9D9"]}},
        "strokeDash": {"datum": "seismic noise", "scale": {"domain": ["DC readout, no OMC (2009)","OMC, 2% MSR (2010)","10% MSR (2011)","better isolation + squeezing (2015)","GEO-HF design","shot noise design (17 kW + 6 dB squeezing)","coating thermal noise","BS thermo-refractive noise","seismic noise","Virgo (S6e)"], "range": [[1,0],[1,0],[1,0],[1,0],[1,0],[9,5],[9,5],[9,5],[9,5],[1,0]]}}
      }
    }
  ]
}
